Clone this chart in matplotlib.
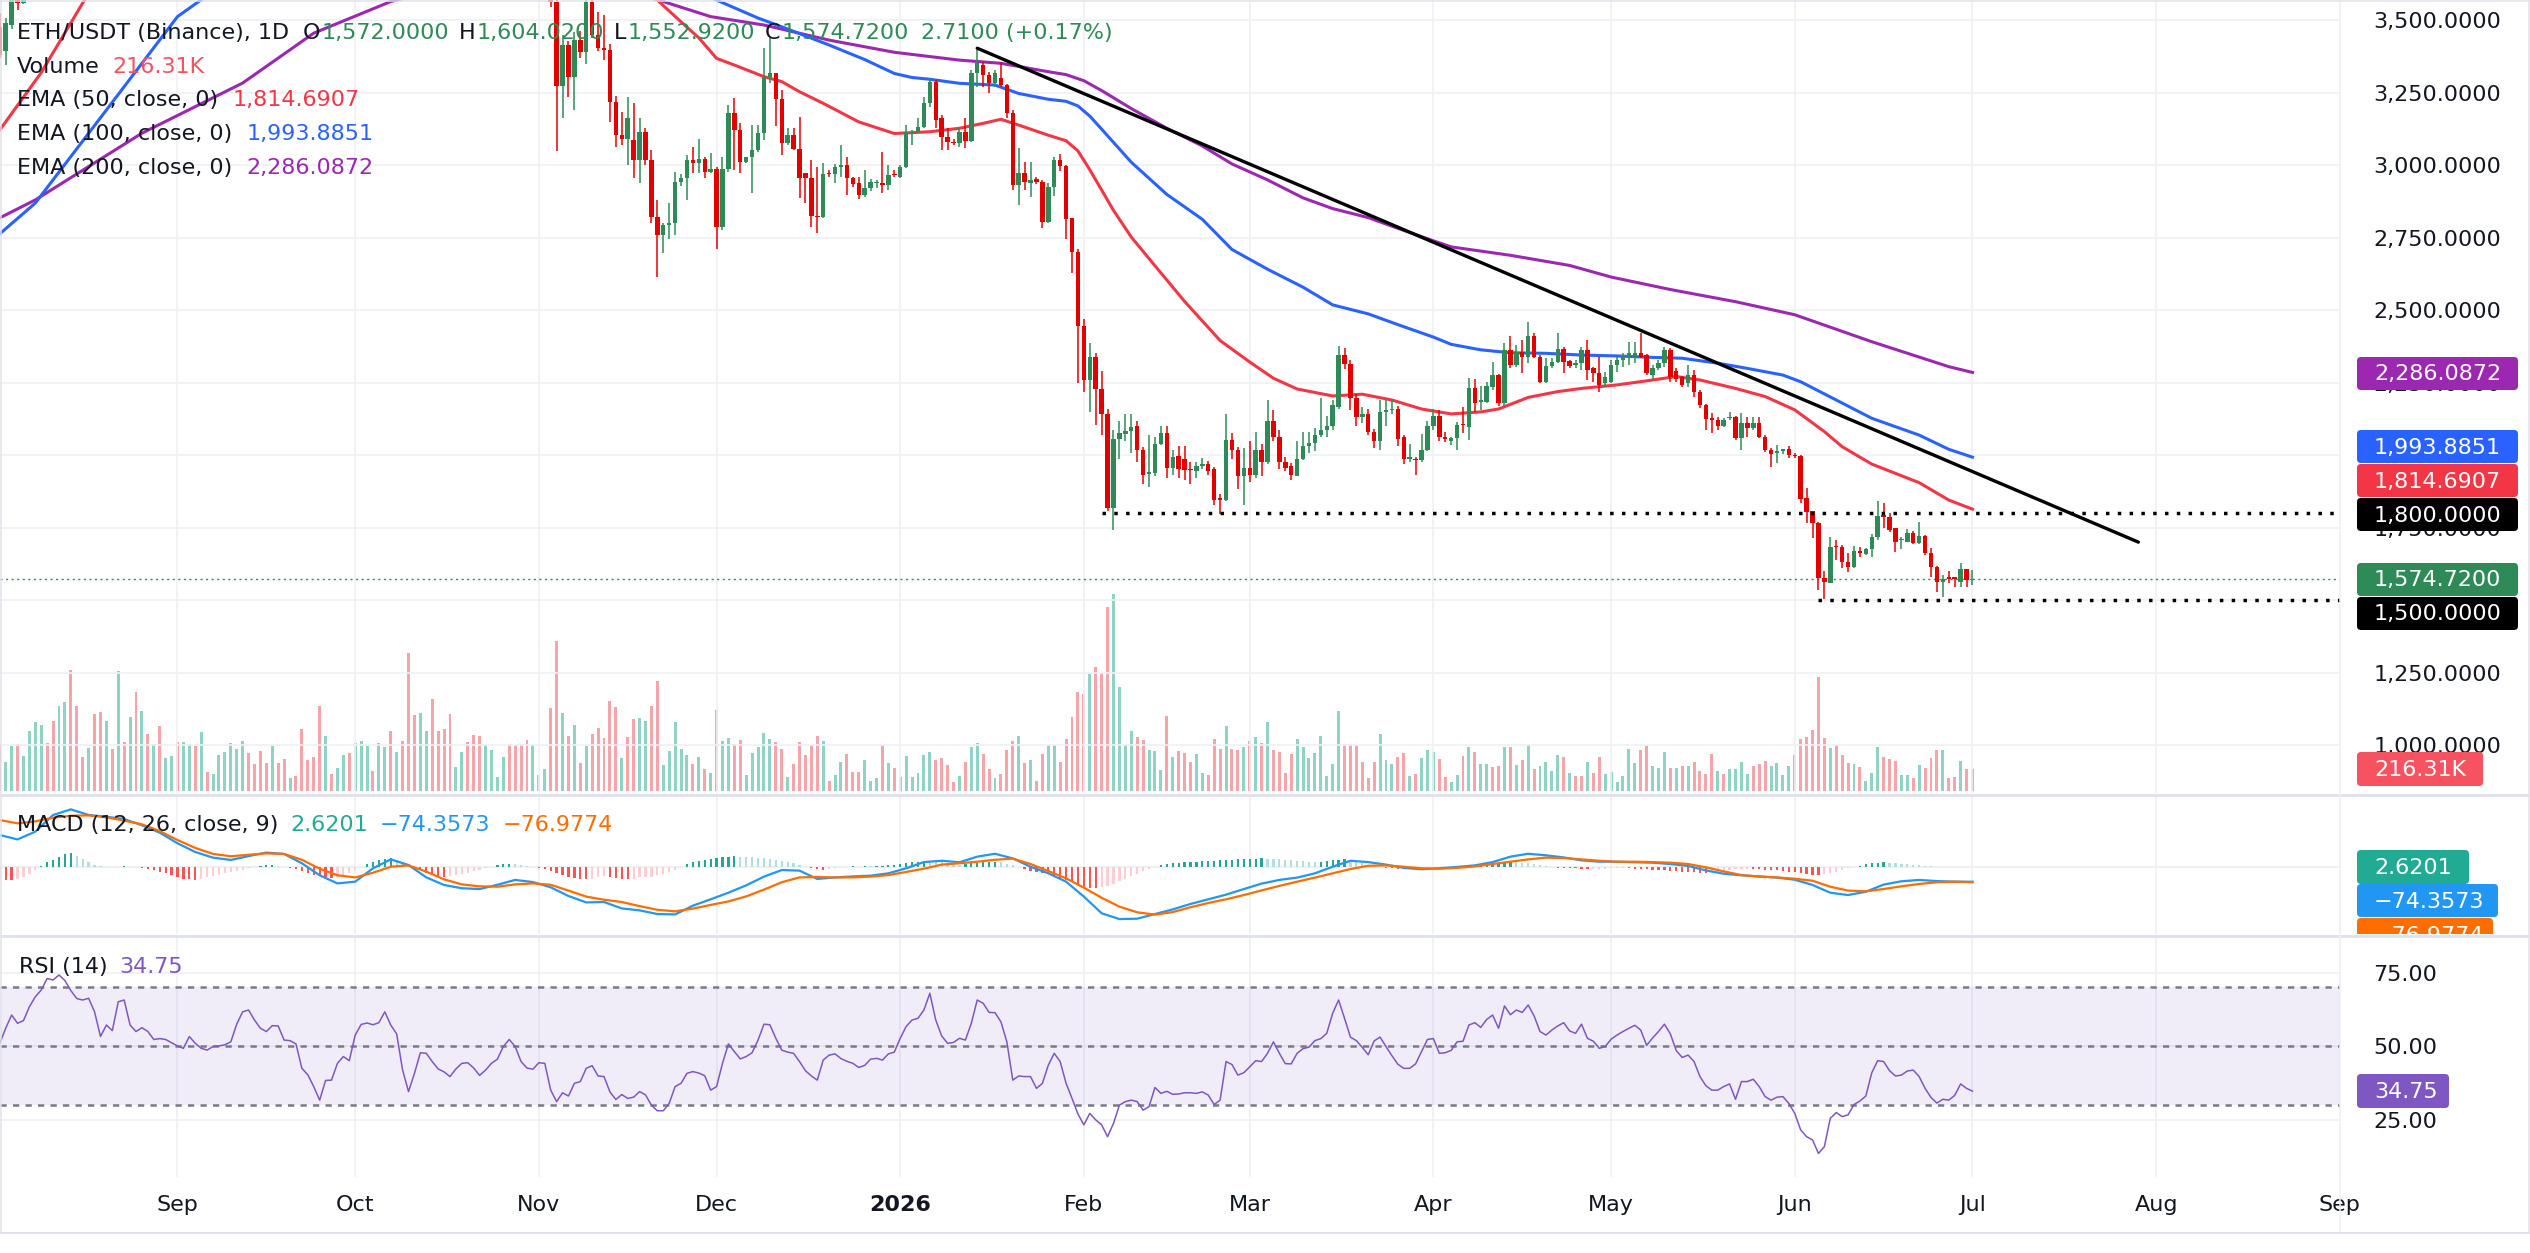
import matplotlib
matplotlib.use('Agg')
import matplotlib.pyplot as plt
import matplotlib.dates as mdates
from matplotlib.patches import FancyBboxPatch
from matplotlib.lines import Line2D
from matplotlib.ticker import FuncFormatter
import numpy as np
import pandas as pd

plt.rcParams['font.family'] = ['DejaVu Sans']
plt.rcParams['font.size'] = 16

# --- Dados: ETH/USDT diario (Binance) ---
# volume diario em milhares, desde 2025-08-02
vol_start = '2025-08-02'
volume_k = [
    467, 287, 447, 467, 347, 597, 687, 657, 477, 697,
    847, 887, 1207, 847, 337, 427, 767, 787, 697, 417,
    1197, 487, 737, 987, 797, 567, 467, 647, 327, 347,
    487, 487, 467, 447, 587, 187, 167, 357, 387, 477,
    417, 497, 377, 267, 397, 277, 447, 277, 317, 127,
    147, 617, 307, 337, 847, 547, 167, 227, 357, 377,
    477, 497, 447, 197, 477, 437, 597, 387, 497, 1377,
    757, 777, 597, 917, 597, 617, 767, 237, 387, 487,
    557, 547, 457, 407, 137, 337, 467, 457, 467, 507,
    457, 157, 217, 827, 1497, 777, 547, 657, 277, 447,
    567, 627, 527, 897, 837, 327, 537, 717, 727, 697,
    847, 1097, 257, 397, 687, 417, 357, 267, 337, 217,
    177, 807, 497, 527, 467, 507, 157, 377, 437, 577,
    517, 487, 417, 137, 267, 487, 357, 457, 547, 497,
    97, 157, 287, 367, 187, 187, 307, 97, 127, 457,
    277, 227, 137, 347, 137, 177, 357, 387, 307, 327,
    257, 87, 147, 287, 437, 477, 367, 217, 127, 167,
    407, 497, 547, 277, 307, 97, 367, 457, 457, 287,
    517, 737, 987, 967, 1167, 1237, 1177, 1837, 1967, 1037,
    457, 597, 537, 507, 407, 397, 207, 747, 337, 397,
    377, 287, 367, 177, 157, 517, 417, 647, 417, 407,
    437, 497, 537,
    477, 687, 407, 387, 177, 367, 517, 437, 327, 377,
    547, 147, 267, 797, 467, 467, 457, 287, 127, 287,
    567, 307, 267, 337, 377, 147, 167, 327, 407, 387,
    317, 137, 87, 157, 347, 437, 387, 267, 267, 237,
    247, 437, 437, 257, 307, 457, 217, 247, 287, 197,
    357, 337, 177, 147, 147, 287, 177, 337, 167, 187,
    87, 147, 417, 277, 407, 447, 247, 227, 387, 227,
    227, 247, 247, 287, 197, 167, 367, 197, 167, 217,
    217, 287, 167, 247, 267, 297, 247, 277, 157, 247,
    357, 517, 537, 607, 1137, 527, 427, 457, 357, 277,
    267, 237, 97, 177, 437, 337, 317, 297, 157, 157,
    127, 257, 227, 327, 407, 407, 127, 137, 297, 217,
    216.31]
volume_dir = ("duuduuuudd" "uuddduddud" "ududududuu" "duududuuuu" "uudddduddu"
              "ddddduduud" "uuuduududd" "duudddduud" "dduuuudddd" "uuuddududu"
              "dddddudduu" "dduuuuudud" "uduudduuuu" "uddudddddu" "duuddduuud"
              "uduuuuuudd" "dduduuddud" "ddududduud" "dddduddduu" "uudduuudud"
              "dduudddudd" "udu"
              "dudddduuuu" "uuuudddddd" "uuudduduuu" "dduududuud" "dudududuuu"
              "ududdudduu" "uuuudduuud" "ududdddudu" "uuuddduuuu" "dddddduddd"
              "uduuuddduu" "duddduddud" "d")

# velas visiveis no inicio de agosto
aug_start = '2025-08-02'
aug_open = [3478, 3395, 3484, 3700, 3560]
aug_high = [3525, 3508, 3720, 3740, 3800]
aug_low = [3370, 3346, 3470, 3536, 3555]
aug_close = [3381, 3491, 3700, 3560, 3760]

# velas a partir de 2025-11-03
main_start = '2025-11-03'
opens = [
    3900, 3565, 3274, 3415, 3306, 3432, 3392, 3565, 3450, 3404,
    3398, 3220, 3105, 3090, 3088, 3019, 3116, 3019, 2823, 2760,
    2794, 2800, 2944, 2955, 3019, 3007, 3021, 2978, 2986, 2789,
    2986, 3180, 3122, 3013, 3028, 3053, 3113, 3306, 3317, 3228,
    3076, 3105, 3055, 2973, 2955, 2826, 2823, 2975, 2970, 2996,
    3001, 2955, 2938, 2898, 2921, 2940, 2940, 2932, 2970, 2961,
    2996, 3110, 3116, 3134, 3214, 3289, 3162, 3099, 3082, 3076,
    3116, 3085, 3317, 3346, 3312, 3285, 3300, 3277, 3180, 2932,
    2973, 2940, 2952, 2944, 2806, 2925, 3017, 2999, 2817, 2703,
    2445, 2260, 2340, 2229, 2143, 1819, 2057, 2075, 2085, 2100,
    2020, 1937, 1941, 2041, 2078, 1958, 1999, 1989, 1952, 1946,
    1964, 1970, 1952, 1854, 1847, 2053, 2020, 1928, 1958, 1934,
    2020, 1977, 2118, 2063, 1977, 1964, 1930, 1989, 2032, 2044,
    2069, 2088, 2100, 2168, 2346, 2315, 2197, 2131, 2143, 2082,
    2051, 2149, 2155, 2161, 2063, 1989, 1989, 1983, 2020, 2100,
    2137, 2063, 2048, 2059, 2108, 2099, 2231, 2185, 2185, 2237,
    2277, 2180, 2364, 2312, 2358, 2341, 2412, 2341, 2254, 2308,
    2323, 2366, 2326, 2312, 2318, 2364, 2300, 2285, 2251, 2254,
    2312, 2329, 2338, 2341, 2352, 2346, 2277, 2300, 2318, 2364,
    2290, 2272, 2251, 2277, 2220, 2174, 2128, 2122, 2102, 2128,
    2131, 2059, 2111, 2093, 2111, 2065, 2019, 2010, 2016, 2021,
    2002, 1998, 1852, 1809, 1768, 1576, 1561, 1688, 1683, 1634,
    1616, 1670, 1660, 1676, 1720, 1795, 1789, 1749, 1708, 1703,
    1734, 1699, 1722, 1662, 1616, 1565, 1580, 1580, 1565, 1607,
    1572.00]
highs = [
    3920, 3640, 3450, 3430, 3460, 3465, 3600, 3600, 3530, 3520,
    3420, 3240, 3185, 3237, 3214, 3162, 3130, 3053, 2881, 2800,
    2870, 2978, 2970, 3036, 3065, 3090, 3030, 3044, 2996, 3030,
    3208, 3231, 3145, 3030, 3139, 3139, 3404, 3438, 3320, 3260,
    3128, 3128, 3168, 2975, 3018, 2996, 3009, 2984, 3005, 3070,
    3030, 2960, 2961, 2984, 2952, 2950, 3047, 3001, 2984, 3001,
    3139, 3122, 3162, 3237, 3300, 3295, 3174, 3128, 3090, 3134,
    3162, 3330, 3398, 3358, 3323, 3330, 3358, 3280, 3191, 3059,
    3013, 3013, 2960, 2950, 2940, 3030, 3038, 3000, 2820, 2710,
    2470, 2389, 2352, 2291, 2161, 2088, 2118, 2143, 2143, 2118,
    2030, 2069, 2063, 2100, 2100, 2020, 2032, 2032, 1977, 1977,
    1992, 1980, 1960, 1866, 2143, 2078, 2030, 2026, 2051, 2081,
    2038, 2192, 2155, 2088, 1995, 1975, 2051, 2081, 2081, 2094,
    2198, 2137, 2192, 2377, 2371, 2330, 2210, 2168, 2161, 2090,
    2192, 2192, 2192, 2170, 2070, 2038, 1995, 2075, 2118, 2161,
    2155, 2082, 2065, 2116, 2168, 2266, 2262, 2239, 2254, 2323,
    2280, 2387, 2410, 2381, 2398, 2461, 2421, 2345, 2335, 2335,
    2421, 2375, 2330, 2329, 2375, 2398, 2305, 2341, 2289, 2329,
    2341, 2352, 2392, 2392, 2421, 2350, 2312, 2329, 2375, 2370,
    2300, 2275, 2312, 2295, 2225, 2178, 2145, 2131, 2128, 2150,
    2135, 2145, 2131, 2131, 2131, 2070, 2025, 2036, 2023, 2033,
    2010, 2000, 1887, 1810, 1770, 1600, 1720, 1708, 1690, 1662,
    1688, 1685, 1680, 1728, 1843, 1835, 1803, 1750, 1720, 1745,
    1740, 1771, 1725, 1680, 1618, 1588, 1601, 1582, 1630, 1610,
    1604.02]
lows = [
    3545, 3051, 3162, 3237, 3191, 3370, 3350, 3440, 3395, 3363,
    3150, 3065, 3070, 3001, 2955, 2938, 3000, 2800, 2616, 2697,
    2745, 2760, 2930, 2881, 2973, 2973, 2955, 2973, 2711, 2777,
    2978, 2984, 2975, 3007, 2904, 3045, 3088, 3283, 3136, 3036,
    3070, 3053, 2886, 2869, 2789, 2768, 2820, 2961, 2940, 2961,
    2898, 2925, 2883, 2892, 2910, 2921, 2904, 2915, 2961, 2955,
    2990, 3070, 3110, 3128, 3202, 3128, 3053, 3053, 3070, 3065,
    3059, 3080, 3271, 3271, 3248, 3270, 3271, 3162, 2915, 2863,
    2915, 2892, 2935, 2783, 2800, 2894, 2980, 2746, 2630, 2248,
    2217, 2149, 2106, 2069, 1810, 1743, 1989, 2050, 2008, 1977,
    1903, 1891, 1928, 2035, 1921, 1934, 1921, 1915, 1903, 1921,
    1952, 1934, 1829, 1798, 1844, 1989, 1884, 1829, 1909, 1921,
    1928, 1970, 2051, 1952, 1946, 1915, 1928, 1983, 2008, 2014,
    2063, 2063, 2088, 2161, 2297, 2157, 2100, 2112, 2069, 2026,
    2020, 2100, 2143, 2032, 1971, 1977, 1934, 1977, 2014, 2088,
    2051, 2045, 2036, 2019, 2076, 2053, 2151, 2157, 2180, 2226,
    2170, 2170, 2300, 2306, 2283, 2318, 2335, 2249, 2250, 2300,
    2318, 2283, 2300, 2300, 2295, 2260, 2254, 2220, 2237, 2249,
    2289, 2306, 2312, 2318, 2335, 2277, 2262, 2295, 2306, 2254,
    2254, 2237, 2235, 2203, 2162, 2088, 2076, 2088, 2099, 2122,
    2053, 2019, 2065, 2088, 2059, 2013, 1961, 1973, 2005, 1990,
    1990, 1835, 1766, 1714, 1536, 1504, 1559, 1639, 1611, 1599,
    1612, 1651, 1655, 1651, 1708, 1749, 1737, 1668, 1676, 1700,
    1695, 1695, 1657, 1582, 1530, 1513, 1561, 1547, 1547, 1547,
    1552.92]
closes = [
    3565, 3274, 3415, 3306, 3432, 3392, 3565, 3450, 3404, 3398,
    3220, 3105, 3090, 3162, 3019, 3116, 3019, 2823, 2760, 2794,
    2800, 2944, 2955, 3019, 3007, 3021, 2978, 2986, 2789, 2986,
    3180, 3122, 3013, 3028, 3053, 3113, 3306, 3317, 3228, 3076,
    3105, 3055, 2955, 2955, 2826, 2823, 2970, 2970, 2996, 3001,
    2955, 2936, 2898, 2921, 2944, 2944, 2932, 2967, 2967, 2996,
    3116, 3116, 3134, 3214, 3289, 3157, 3099, 3082, 3078, 3116,
    3085, 3317, 3352, 3312, 3283, 3317, 3277, 3180, 2932, 2973,
    2944, 2950, 2944, 2806, 2925, 3017, 2999, 2814, 2701, 2445,
    2260, 2340, 2229, 2143, 1817, 2057, 2078, 2085, 2097, 2020,
    1934, 1944, 2041, 2078, 1958, 1995, 1952, 1950, 1950, 1964,
    1972, 1946, 1847, 1847, 2053, 2020, 1928, 1958, 1934, 2020,
    1977, 2118, 2063, 1977, 1958, 1934, 1989, 2032, 2044, 2069,
    2088, 2100, 2174, 2346, 2315, 2197, 2131, 2143, 2082, 2051,
    2149, 2155, 2161, 2057, 1989, 1995, 1983, 2020, 2100, 2137,
    2063, 2057, 2059, 2105, 2105, 2231, 2180, 2191, 2239, 2277,
    2180, 2364, 2312, 2358, 2341, 2412, 2341, 2254, 2308, 2323,
    2366, 2323, 2308, 2318, 2364, 2295, 2285, 2243, 2272, 2312,
    2329, 2346, 2352, 2354, 2338, 2283, 2300, 2318, 2364, 2272,
    2262, 2243, 2277, 2220, 2174, 2125, 2122, 2102, 2122, 2131,
    2059, 2111, 2093, 2111, 2065, 2019, 2005, 2016, 2021, 2002,
    1998, 1849, 1806, 1768, 1576, 1565, 1685, 1683, 1634, 1616,
    1670, 1662, 1676, 1720, 1791, 1789, 1743, 1703, 1712, 1734,
    1699, 1722, 1662, 1616, 1565, 1573, 1573, 1573, 1607, 1572.01,
    1574.72]

# EMAs: dias contados a partir de 2025-09-01
ema50_day = [-30, -23, -16, -10, 10, 40, 65, 81, 85, 88, 91, 94, 99, 102, 105, 109,
             115, 121, 127, 132, 136, 139, 142, 147, 150, 152, 154, 156, 158, 161, 165, 170, 176,
             181, 185, 189, 195, 200, 205, 210, 215, 220, 223, 228, 233, 237,
             243, 249, 253, 257, 263, 268, 273, 278, 281, 286, 294, 299, 303]
ema50 = [3122, 3320, 3560, 3750, 4150, 4200, 3850, 3570, 3495, 3440, 3369, 3346, 3306, 3289, 3254, 3214,
         3150, 3110, 3116, 3128, 3145, 3159, 3139, 3104, 3085, 3050, 2985, 2915, 2845, 2753, 2654, 2531, 2396,
         2322, 2266, 2229, 2205, 2211, 2191, 2160, 2143, 2150, 2160, 2200, 2220, 2231,
         2243, 2260, 2272, 2260, 2231, 2203, 2157, 2082, 2030, 1970, 1906, 1846, 1814.6907]
ema100_day = [-30, -24, -12, 0, 6, 30, 60, 80, 91, 98, 102, 110, 116, 121, 124,
              127, 132, 138, 142, 147, 150, 152, 154, 156, 161, 167, 173, 178, 184, 190, 195, 201, 206,
              212, 215, 220, 225, 231, 237, 243, 249, 254, 260, 265, 271, 274, 280, 286, 294, 299, 303]
ema100 = [2764, 2870, 3191, 3513, 3600, 3900, 3850, 3680, 3570, 3508, 3478, 3415, 3365, 3317, 3303,
          3297, 3283, 3277, 3248, 3228, 3221, 3205, 3170, 3125, 3011, 2900, 2814, 2710, 2642, 2580, 2519,
          2488, 2451,
          2408, 2383, 2364, 2354, 2352, 2346, 2343, 2338, 2335, 2318, 2300, 2277, 2254, 2191, 2128, 2070, 2021,
          1993.8851]
ema200_day = [-30, -24, -6, 11, 23, 36, 50, 70, 82, 90, 99, 110, 121, 132, 139, 147, 150, 153,
              156, 161, 167, 173, 178, 184, 190, 195, 201, 206, 212, 215, 225, 235, 242,
              252, 263, 273, 286, 299, 303]
ema200 = [2819, 2881, 3111, 3284, 3456, 3565, 3640, 3640, 3565, 3513, 3484, 3432, 3390, 3363, 3352, 3323, 3313,
          3292, 3258, 3196, 3128, 3067, 3005, 2950, 2888, 2851, 2820, 2783, 2740, 2719, 2690, 2655, 2615,
          2572, 2530, 2485, 2392, 2306, 2286.0872]

# MACD (12, 26, 9): linhas a cada 3 dias, histograma diario
macd_start = '2025-08-02'
macd_line = [166.7, 144, 184, 270, 299, 270, 261, 249, 217, 179,
             124, 79, 50, 38, 58, 76, 69, 21, -41, -83,
             -74, -5, 41, 12, -52, -91, -108, -112, -90, -65,
             -76, -103, -148, -181, -179, -212, -222, -241, -243, -198,
             -165, -131, -93, -48, -14, -17, -60, -52, -47, -43,
             -31, -5, 27, 34, 26, 55, 70, 46, 3, -31,
             -74, -151, -237, -267, -265, -241, -217, -189, -165, -141,
             -112, -84, -65, -53, -31, 3, 34, 27, 14, -3,
             -10, -5, 2, 10, 27, 55, 70, 62, 51, 36,
             29, 29, 26, 24, 17, 7, -16, -33, -41, -47,
             -53, -64, -91, -131, -143, -126, -89, -72, -65, -71,
             -74, -74.3573]
macd_signal = [244, 227, 237, 256, 266, 268, 258, 241, 222, 187,
               141, 100, 69, 57, 65, 72, 69, 39, -7, -41,
               -52, -28, 3, 10, -22, -62, -88, -98, -100, -88,
               -83, -90, -120, -151, -167, -179, -200, -219, -227, -213,
               -194, -176, -150, -115, -77, -52, -50, -52, -52, -48,
               -40, -24, -7, 14, 21, 29, 39, 45, 17, -19,
               -57, -105, -157, -203, -232, -244, -231, -206, -184, -165,
               -143, -119, -96, -74, -53, -31, -9, 8, 10, 3,
               -5, -7, -3, 5, 17, 29, 41, 50, 48, 41,
               34, 29, 29, 27, 24, 17, 0, -21, -40, -48,
               -52, -59, -69, -100, -120, -124, -112, -98, -86, -77,
               -74, -76.9774]
macd_hist = [
    -62, -64, -66, -60, -50, -35, -15, 5, 25, 40, 55, 68, 72, 60, 45,
    25, 12, 5, 3, 2, 4, 6, 3, 0, -5, -10, -15, -22, -30, -40,
    -50, -58, -62, -64, -60, -52, -45, -38, -30, -25, -18, -12, -6, 0, 6,
    10, 12, 9, 4, -2, -10, -20, -30, -38, -45, -52, -55, -50, -42, -30,
    -15, 0, 15, 28, 38, 45, 46, 40, 28, 15, 0, -15, -28, -38, -45,
    -48, -45, -40, -34, -28, -20, -12, -4, 4, 10, 15, 17, 16, 12, 8,
    3, -3, -10, -20, -30, -40, -48, -55, -60, -62, -58, -50, -44, -48, -55,
    -60, -62, -58, -52, -50, -48, -42, -35, -25, -12, 2, 15, 25, 33, 40,
    45, 48, 52, 55, 56, 55, 54, 52, 50, 48, 44, 40, 35, 28, 20,
    12, 4, -4, -10, -12, -8, -4, 0, 3, 5, 4, 6, 5, 6, 8,
    10, 14, 18, 22, 26, 30, 34, 33, 30, 26, 22, 18, 14, 16, 20,
    24, 27, 29, 30, 25, 18, 10, 2, -8, -18, -25, -30, -35, -45, -55,
    -65, -78, -90, -100, -106, -108, -104, -95, -85, -72, -58, -45, -32, -20, -8,
    2, 10, 16, 20, 23, 25, 27, 29, 31, 33, 35, 37, 39, 40, 42,
    43, 44, 45, 46, 45, 44, 42, 40, 37, 34, 31, 29, 28, 30, 33,
    36, 40, 42, 38, 30, 20, 12, 6, 2, -2, -5, -7, -8, -7, -6,
    -4, -2, 0, 2, 3, 4, 5, 7, 10, 13, 16, 19, 22, 24, 26,
    27, 26, 24, 20, 15, 10, 6, 2, -1, -3, -5, -6, -7, -8, -8,
    -8, -7, -6, -5, -5, -6, -7, -8, -10, -12, -14, -16, -18, -20, -22,
    -24, -26, -27, -28, -26, -22, -18, -14, -10, -8, -7, -8, -10, -12, -14,
    -16, -19, -22, -26, -30, -34, -38, -40, -36, -30, -22, -14, -6, 2, 9,
    15, 20, 24, 25, 24, 22, 19, 16, 13, 10, 8, 6, 4, 3, 2,
    1, 2, 3, 2.6201]

# RSI (14) diario
rsi = [
    51.0, 56.1, 60.6, 57.8, 58.7, 63.4, 66.8, 69.1, 73.0, 72.5,
    74.2, 72.3, 68.9, 66.2, 65.7, 66.3, 61.7, 53.3, 57.2, 55.3,
    65.1, 65.7, 57.2, 55.0, 56.3, 55.0, 52.3, 52.6, 52.3, 51.2,
    50.1, 49.3, 53.3, 51.0, 49.3, 48.7, 49.9, 50.1, 50.5, 51.5,
    57.5, 61.7, 62.3, 58.9, 56.1, 55.0, 57.0, 56.9, 52.1, 51.9,
    50.8, 42.5, 40.3, 36.3, 31.7, 38.4, 38.5, 44.2, 46.5, 45.1,
    53.8, 57.4, 57.9, 57.3, 58.0, 61.7, 57.2, 54.2, 41.9, 34.6,
    40.8, 47.8, 47.6, 44.8, 42.3, 41.3, 39.7, 42.3, 44.2, 44.4,
    42.6, 40.1, 41.9, 44.2, 45.6, 49.9, 52.3, 49.9, 44.8, 42.6,
    42.2, 44.4, 44.2, 35.1, 31.2, 34.2, 33.1, 37.4, 38.0, 42.5,
    43.4, 39.9, 39.7, 34.5, 31.9, 33.6, 32.3, 32.7, 34.6, 33.5,
    30.0, 28.1, 28.1, 30.6, 36.3, 37.4, 40.8, 41.4, 40.9, 40.0,
    35.1, 36.3, 44.2, 50.8, 48.2, 45.7, 46.5, 47.8, 52.1, 57.5,
    57.3, 52.7, 48.7, 48.0, 47.6, 44.8, 41.7, 39.9, 38.5, 45.3,
    47.0, 47.4, 45.8, 44.9, 44.2, 42.8, 43.5, 45.6, 45.9, 45.3,
    47.4, 48.0, 52.7, 56.7, 58.9, 59.5, 62.3, 68.0, 58.9, 53.5,
    51.0, 51.3, 52.7, 52.1, 57.8, 65.7, 64.6, 61.5, 61.4, 58.3,
    51.5, 38.5, 39.9, 39.7, 39.7, 35.7, 37.4, 43.6, 47.6, 44.8,
    37.4, 32.3, 27.0, 23.3, 27.2, 25.0, 23.3, 19.3, 23.8, 30.0,
    31.2, 31.7, 31.2, 28.3, 29.5, 36.0, 34.0, 34.7, 33.7, 33.8,
    34.2, 34.2, 34.0, 34.5, 33.4, 30.2, 31.7, 44.8, 43.8, 40.2,
    41.0, 43.0, 45.1, 44.8, 47.6, 51.5, 47.6, 44.1, 44.0, 47.6,
    49.2, 49.7, 51.9, 52.6, 54.4, 61.2, 65.7, 59.5, 53.1, 51.9,
    49.6, 47.1, 51.8, 53.1, 49.9, 46.8, 43.9, 42.5, 42.5, 44.0,
    48.2, 52.3, 52.6, 47.6, 47.8, 48.6, 51.5, 51.7, 57.2, 58.0,
    56.4, 59.1, 60.6, 56.1, 63.7, 60.7, 62.3, 61.5, 64.0, 60.3,
    55.0, 53.8, 55.5, 56.9, 58.0, 55.2, 54.4, 57.5, 52.7, 51.7,
    49.3, 49.9, 52.4, 53.8, 55.0, 56.1, 57.1, 55.5, 50.3, 52.8,
    55.0, 57.5, 54.2, 48.5, 46.2, 47.0, 44.8, 39.7, 36.6, 35.1,
    35.1, 36.3, 37.2, 32.0, 38.0, 38.0, 38.8, 36.3, 32.9, 31.7,
    32.7, 32.9, 30.6, 27.2, 21.6, 19.3, 18.2, 13.6, 15.9, 25.5,
    27.5, 26.1, 26.7, 30.2, 31.4, 33.1, 41.0, 45.1, 44.8, 41.7,
    39.9, 40.2, 41.6, 41.9, 39.7, 35.7, 32.6, 30.7, 32.0, 31.7,
    33.3, 37.2, 35.7, 34.75]

# linha de tendencia e suportes desenhados no grafico
trend_dates = ['2026-01-14', '2026-07-29']
trend_prices = [3404, 1701]
support_levels = [1800, 1500]
support_from = ['2026-02-04', '2026-06-05']

month_labels = ['Sep', 'Oct', 'Nov', 'Dec', '2026', 'Feb', 'Mar', 'Apr',
                'May', 'Jun', 'Jul', 'Aug', 'Sep']

assert len(volume_k) == len(volume_dir) == len(rsi) == len(macd_hist) == 334
assert len(opens) == len(highs) == len(lows) == len(closes) == 241
assert len(macd_line) == len(macd_signal) == 112
assert len(ema50) == len(ema50_day) and len(ema100) == len(ema100_day) and len(ema200) == len(ema200_day)

# --- Cores ---
TXT = '#131722'
GREEN = '#2e8b57'
RED = '#e50000'
VOL_UP = '#8fd3c4'
VOL_DN = '#f6a4aa'
C50, C100, C200 = '#f23645', '#2962ff', '#9c27b0'
GRID = '#eef0f4'
SEP = '#e0e3eb'

# --- Figura ---
W, H = 2530, 1253
fig = plt.figure(figsize=(W / 100, H / 100), dpi=100)
fig.patch.set_facecolor('white')


def px_axes(x0, y0, x1, y1, **kw):
    return fig.add_axes([x0 / W, 1 - y1 / H, (x1 - x0) / W, (y1 - y0) / H], **kw)


def days(start, n, step=1):
    return mdates.date2num(pd.date_range(start, periods=n, freq=f'{step}D').to_numpy())


sep1 = mdates.date2num(np.datetime64('2025-09-01'))

ax = px_axes(0, 0, 2340, 793)
axv = ax.twinx()
ax_m = px_axes(0, 796, 2340, 934, sharex=ax)
ax_r = px_axes(0, 937, 2340, 1177, sharex=ax)
axv.set_zorder(ax.get_zorder() - 1)
ax.patch.set_visible(False)

for a in (ax, axv, ax_m, ax_r):
    for s in a.spines.values():
        s.set_visible(False)

ax.set_xlim(sep1 - 29.96, sep1 + 365.04)
months = mdates.date2num(pd.date_range('2025-09-01', '2026-09-01', freq='MS').to_numpy())
ax_r.set_xticks(months)
ax_r.set_xticklabels(month_labels)
for lab in ax_r.get_xticklabels():
    if lab.get_text() == '2026':
        lab.set_fontweight('bold')
ax_r.tick_params(axis='x', length=0, pad=13, labelsize=16, labelcolor=TXT)
ax.tick_params(axis='x', length=0, labelbottom=False)
ax_m.tick_params(axis='x', length=0, labelbottom=False)
for a in (ax, ax_m, ax_r):
    a.grid(True, axis='x', color=GRID, lw=1.2)
    a.set_axisbelow(True)

# --- Volume ---
v_dates = days(vol_start, len(volume_k))
vcols = [VOL_UP if f == 'u' else VOL_DN for f in volume_dir]
axv.bar(v_dates, volume_k, width=0.5, color=vcols, linewidth=0)
axv.set_ylim(-20, 7886)
axv.yaxis.set_visible(False)

# --- Preco ---
# os rotulos 2,000 e 1,500 ficam inteiramente por baixo das etiquetas de valor
hidden_ticks = {2000, 1500}
ax.set_ylim(835.9, 3570.3)
ax.yaxis.tick_right()
ax.set_yticks(np.arange(1000, 3501, 250))
ax.yaxis.set_major_formatter(FuncFormatter(lambda v, _: '' if round(v) in hidden_ticks else f'{v:,.4f}'))
ax.tick_params(axis='y', length=0, pad=24, labelsize=16, labelcolor=TXT)
ax.grid(True, axis='y', color=GRID, lw=1.2)

o = np.array(aug_open + opens, dtype=float)
h = np.array(aug_high + highs, dtype=float)
l = np.array(aug_low + lows, dtype=float)
c = np.array(aug_close + closes, dtype=float)
c_dates = np.concatenate([days(aug_start, len(aug_open)), days(main_start, len(opens))])
ccols = np.where(c >= o, GREEN, RED)

for dd, vals, col in [(ema200_day, ema200, C200), (ema100_day, ema100, C100), (ema50_day, ema50, C50)]:
    ax.plot(sep1 + np.array(dd), vals, color=col, lw=2.2, zorder=2, solid_joinstyle='round')

ax.vlines(c_dates, l, h, colors=ccols, lw=1.1, zorder=3)
ax.bar(c_dates, np.maximum(np.abs(c - o), 2.5), bottom=np.minimum(o, c), width=0.75,
       color=ccols, linewidth=0, zorder=3)

ax.axhline(c[-1], color=GREEN, lw=1.0, linestyle=(0, (1.5, 2.5)), zorder=2)
for lvl, start in zip(support_levels, support_from):
    ax.hlines(lvl, mdates.date2num(np.datetime64(start)), sep1 + 365.04, colors='black',
              lw=2.5, linestyles=[(0, (1, 2.4))], zorder=4)
ax.plot(mdates.date2num(np.array(trend_dates, dtype='datetime64[D]')), trend_prices,
        color='black', lw=2.4, zorder=4, solid_capstyle='round')

# --- MACD ---
ax_m.set_ylim(-344, 368)
ax_m.set_yticks([])
ax_m.axhline(0, color=GRID, lw=1.5, zorder=0)
hist = np.array(macd_hist, dtype=float)
prev = np.r_[hist[0], hist[:-1]]
hcols = np.where(hist >= 0, np.where(hist > prev, '#26a69a', '#b2dfdb'),
                 np.where(hist < prev, '#ff5252', '#ffcdd2'))
ax_m.bar(days(macd_start, len(hist)), hist, width=0.38, color=hcols, linewidth=0, zorder=2)
m_dates = days(macd_start, len(macd_line), 3)
ax_m.plot(m_dates, macd_line, color='#2196f3', lw=1.6, zorder=3)
ax_m.plot(m_dates, macd_signal, color='#ff6d00', lw=1.6, zorder=3)

# --- RSI ---
ax_r.set_ylim(5.6, 87.1)
ax_r.yaxis.tick_right()
ax_r.set_yticks([25, 50, 75])
ax_r.yaxis.set_major_formatter(FuncFormatter(lambda v, _: f'{v:.2f}'))
ax_r.tick_params(axis='y', length=0, pad=24, labelsize=16, labelcolor=TXT)
ax_r.grid(True, axis='y', color=GRID, lw=1.2)
ax_r.axhspan(30, 70, color='#7e57c2', alpha=0.1, lw=0)
for lvl in (70, 50, 30):
    ax_r.axhline(lvl, color='#787b86', lw=1.8, linestyle=(0, (2.5, 2.5)))
ax_r.plot(days(vol_start, len(rsi)), rsi, color='#7e57c2', lw=1.1)


# --- Legendas (cada linha no seu painel) ---
def legend_row(a, y_px, parts, x_px=17):
    txt, col = parts[0][:2]
    t = a.annotate(txt, xy=(x_px, H - y_px), xycoords='figure pixels', va='center', ha='left',
                   color=col, fontsize=16, zorder=10, annotation_clip=False)
    for txt, col, gap in parts[1:]:
        t = a.annotate(txt, xy=(1, 0.5), xycoords=t, xytext=(gap * 0.72, 0), textcoords='offset points',
                       va='center', ha='left', color=col, fontsize=16, zorder=10, annotation_clip=False)


def neg(v):
    return f'{v:.4f}'.replace('-', '\u2212')


chg = c[-1] - c[-2]
legend_row(ax, 33, [('ETH/USDT (Binance), 1D', TXT), ('O', TXT, 14), (f'{o[-1]:,.4f}', GREEN, 1),
                    ('H', TXT, 10), (f'{h[-1]:,.4f}', GREEN, 1), ('L', TXT, 10), (f'{l[-1]:,.4f}', GREEN, 1),
                    ('C', TXT, 10), (f'{c[-1]:,.4f}', GREEN, 1),
                    (f'{chg:.4f} ({chg / c[-2] * 100:+.2f}%)', GREEN, 12)])
legend_row(ax, 67, [('Volume', TXT), (f'{volume_k[-1]:.2f}K', '#f7525f', 13)])
legend_row(ax, 100, [('EMA (50, close, 0)', TXT), (f'{ema50[-1]:,.4f}', C50, 14)])
legend_row(ax, 134, [('EMA (100, close, 0)', TXT), (f'{ema100[-1]:,.4f}', C100, 14)])
legend_row(ax, 168, [('EMA (200, close, 0)', TXT), (f'{ema200[-1]:,.4f}', C200, 14)])
legend_row(ax_m, 825, [('MACD (12, 26, close, 9)', TXT), (neg(macd_hist[-1]), '#22ab94', 12),
                       (neg(macd_line[-1]), '#2196f3', 12), (neg(macd_signal[-1]), '#ff6d00', 12)])
legend_row(ax_r, 967, [('RSI (14)', TXT), (f'{rsi[-1]:.2f}', '#7e57c2', 12)], x_px=19)


# --- Etiquetas na escala da direita ---
def strip(y0, y1):
    s = px_axes(2340, y0, W, y1)
    s.set_xlim(2340, W)
    s.set_ylim(y1, y0)
    s.axis('off')
    s.set_zorder(5)
    return s


def tag(s, y0, y1, x1, text, color):
    s.add_patch(FancyBboxPatch((2357, y0), x1 - 2357, y1 - y0, boxstyle='round,pad=0,rounding_size=4',
                               fc=color, ec='none', clip_on=True))
    s.text(2374, (y0 + y1) / 2 + 1, text, color='white', va='center', ha='left', fontsize=16, clip_on=True)


sp = strip(0, 793)
tag(sp, 357, 390, 2518, f'{ema200[-1]:,.4f}', C200)
tag(sp, 430, 463, 2518, f'{ema100[-1]:,.4f}', C100)
tag(sp, 464, 497, 2518, f'{ema50[-1]:,.4f}', C50)
tag(sp, 498, 531, 2518, f'{support_levels[0]:,.4f}', 'black')
tag(sp, 563, 596, 2518, f'{c[-1]:,.4f}', GREEN)
tag(sp, 597, 630, 2518, f'{support_levels[1]:,.4f}', 'black')
tag(sp, 752, 786, 2483, f'{volume_k[-1]:.2f}K', '#f7525f')

sm = strip(796, 934)
tag(sm, 850, 884, 2469, neg(macd_hist[-1]), '#22ab94')
tag(sm, 884, 917, 2498, neg(macd_line[-1]), '#2196f3')
tag(sm, 918, 951, 2493, neg(macd_signal[-1]), '#ff6d00')

sr = strip(937, 1177)
tag(sr, 1074, 1108, 2449, f'{rsi[-1]:.2f}', '#7e57c2')


# --- Separadores e moldura ---
def fig_line(x0, y0, x1, y1, color, lw_px):
    fig.add_artist(Line2D([x0 / W, x1 / W], [1 - y0 / H, 1 - y1 / H], transform=fig.transFigure,
                          color=color, lw=lw_px * 0.72, zorder=8))


fig_line(0, 794.5, W, 794.5, SEP, 3)
fig_line(0, 935.5, W, 935.5, SEP, 3)
fig_line(2340, 0, 2340, 1233, GRID, 1.5)
fig_line(0, 1233, W, 1233, SEP, 2)
fig_line(0.5, 0, 0.5, 1233, SEP, 1.5)
fig_line(0, 0.5, W, 0.5, SEP, 1.5)
fig_line(W - 1, 0, W - 1, 1233, SEP, 1.5)

fig.savefig('out.png', dpi=100, facecolor='white')
